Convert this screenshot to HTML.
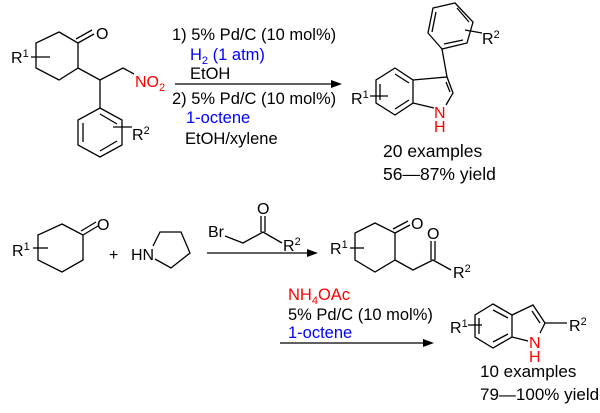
<!DOCTYPE html>
<html><head><meta charset="utf-8"><style>
html,body{margin:0;padding:0;background:#fff;width:600px;height:413px;overflow:hidden}
svg{display:block}
text{font-family:"Liberation Sans",Arial,sans-serif;font-size:16px;fill:#000}
.s{font-size:11px}
.t{font-size:16.5px}
.e1{font-size:17.5px}
.e2{font-size:17px}
.b{fill:#0000ff}.r{fill:#ff0000}
line,polyline,polygon{stroke:#000;stroke-width:1.3;fill:none}
</style></head><body>
<svg width="600" height="413" viewBox="0 0 600 413">
<polygon points="59,32 78,43 78,68 59,80 36,68 36,43"/>
<line x1="78" y1="43" x2="94" y2="34"/><line x1="76" y1="39" x2="92" y2="30"/>
<text x="96" y="39">O</text>
<text x="11" y="63">R<tspan class="s" dy="-6">1</tspan></text>
<line x1="31" y1="57" x2="50" y2="57"/>
<polyline points="78,68 100,80 123,68 134,74"/>
<text x="135" y="87" class="r">NO<tspan class="s" dy="4" style="fill:#f00">2</tspan></text>
<line x1="100" y1="80" x2="100" y2="108"/>
<polygon points="100,108 122,120 122,145 100,157 78,145 78,120"/>
<line x1="83" y1="123" x2="83" y2="142"/><line x1="100" y1="151" x2="117" y2="141"/><line x1="100" y1="114" x2="117" y2="124"/>
<line x1="113" y1="127" x2="132" y2="127"/>
<text x="132" y="140">R<tspan class="s" dy="-6">2</tspan></text>
<text x="172" y="40" class="t">1) 5% Pd/C (10 mol%)</text>
<text x="190" y="60" class="b t">H<tspan class="s" dy="4">2</tspan><tspan dy="-4"> (1 atm)</tspan></text>
<text x="190" y="79" class="t">EtOH</text>
<line x1="175" y1="84" x2="334" y2="84"/>
<polygon points="342,84 331,80 331,88" style="fill:#000;stroke:none"/>
<text x="172" y="104" class="t">2) 5% Pd/C (10 mol%)</text>
<text x="186" y="123" class="b t">1-octene</text>
<text x="185" y="144" class="t">EtOH/xylene</text>
<polygon points="395,68 413,80 413,103 395,115 376,103 376,80"/>
<line x1="380" y1="84" x2="380" y2="100"/><line x1="395" y1="109" x2="409" y2="100"/><line x1="395" y1="74" x2="409" y2="83"/>
<polyline points="413,80 447,77 453,93 446,105"/>
<line x1="446" y1="82" x2="450" y2="92"/>
<line x1="413" y1="103" x2="434" y2="108"/>
<text x="434" y="118" class="r">N</text><text x="434" y="132" class="r">H</text>
<line x1="447" y1="77" x2="442" y2="49"/>
<polygon points="442,49 428,33 433,8 455,3 473,22 467,43"/>
<line x1="432" y1="32" x2="436" y2="12"/><line x1="457" y1="8" x2="469" y2="22"/><line x1="444" y1="44" x2="463" y2="40"/>
<line x1="465" y1="30" x2="482" y2="33"/>
<text x="482" y="44">R<tspan class="s" dy="-6">2</tspan></text>
<text x="351" y="104">R<tspan class="s" dy="-6">1</tspan></text>
<line x1="370" y1="96" x2="388" y2="96"/>
<text x="383" y="157" class="e1">20 examples</text>
<text x="383" y="180" class="e1">56—87% yield</text>

<!-- bottom left cyclohexanone -->
<polygon points="62,224 83,235 83,260 62,272 38,260 38,235"/>
<line x1="83" y1="235" x2="98" y2="226"/><line x1="81" y1="231" x2="96" y2="222"/>
<text x="97" y="230">O</text>
<text x="12" y="256">R<tspan class="s" dy="-6">1</tspan></text>
<line x1="33" y1="248" x2="48" y2="248"/>
<text x="109" y="260">+</text>
<text x="131" y="260">HN</text>
<polyline points="153,246 160,232 181,232 190,253 171,268 155,259"/>
<!-- bromoketone -->
<text x="208" y="237">Br</text>
<polyline points="225,236 243,243 263,232 282,243"/>
<line x1="261" y1="232" x2="261" y2="216"/><line x1="265" y1="232" x2="265" y2="216"/>
<text x="257" y="214">O</text>
<text x="283" y="251">R<tspan class="s" dy="-6">2</tspan></text>
<line x1="207" y1="253" x2="310" y2="253"/>
<polygon points="318,253 307,249 307,257" style="fill:#000;stroke:none"/>
<!-- middle product -->
<polygon points="375,223 395,233 395,260 375,272 355,260 355,233"/>
<line x1="395" y1="233" x2="410" y2="225"/><line x1="393" y1="229" x2="408" y2="221"/>
<text x="411" y="229">O</text>
<text x="330" y="254">R<tspan class="s" dy="-6">1</tspan></text>
<line x1="350" y1="248" x2="364" y2="248"/>
<polyline points="395,260 413,270 433,260 451,270"/>
<line x1="431" y1="260" x2="431" y2="241"/><line x1="435" y1="260" x2="435" y2="241"/>
<text x="427" y="239">O</text>
<text x="453" y="278">R<tspan class="s" dy="-6">2</tspan></text>
<!-- bottom reagents -->
<text x="288" y="300" class="r t">NH<tspan class="s" dy="4">4</tspan><tspan dy="-4">OAc</tspan></text>
<text x="288" y="320" class="t">5% Pd/C (10 mol%)</text>
<text x="288" y="338" class="b t">1-octene</text>
<line x1="280" y1="343" x2="425" y2="343"/>
<polygon points="434,343 423,339 423,347" style="fill:#000;stroke:none"/>
<!-- bottom indole -->
<polygon points="493,304 512,315 512,337 493,348 475,337 475,315"/>
<line x1="479" y1="318" x2="479" y2="334"/><line x1="493" y1="342" x2="508" y2="334"/><line x1="493" y1="310" x2="508" y2="318"/>
<polyline points="512,315 533,305 545,323 540,333"/>
<line x1="532" y1="311" x2="540" y2="323"/>
<line x1="512" y1="337" x2="528" y2="341"/>
<text x="529" y="348" class="r">N</text><text x="529" y="362" class="r">H</text>
<line x1="545" y1="323" x2="567" y2="323"/>
<text x="569" y="331">R<tspan class="s" dy="-6">2</tspan></text>
<text x="450" y="333">R<tspan class="s" dy="-6">1</tspan></text>
<line x1="468" y1="325" x2="482" y2="325"/>
<text x="480" y="377" class="e2">10 examples</text>
<text x="480" y="400" class="e2">79—100% yield</text>
</svg>
</body></html>
